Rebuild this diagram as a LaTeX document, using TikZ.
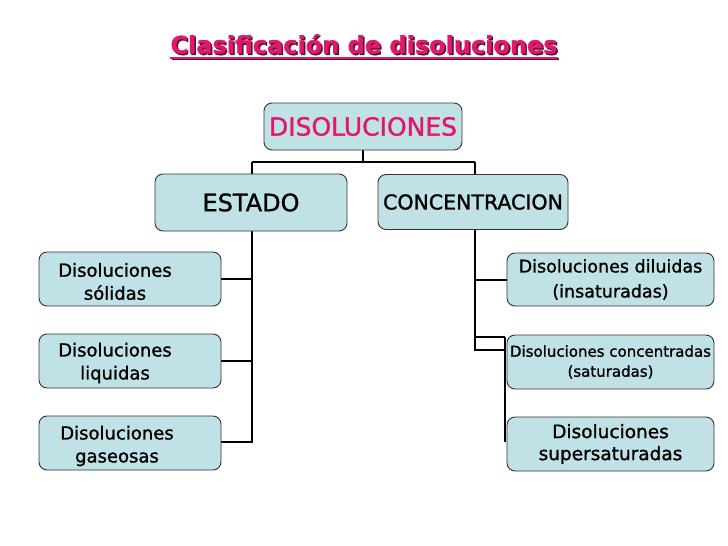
\documentclass[tikz,border=0pt]{standalone}
\usepackage{fontspec}
\setmainfont[FakeBold=1.2]{DejaVu Sans}
\definecolor{boxfill}{RGB}{192,226,230}
\definecolor{pinkt}{RGB}{226,22,110}
\definecolor{shadowc}{RGB}{80,20,40}
\begin{document}
\begin{tikzpicture}[x=1pt,y=-1pt,
  box/.style={draw=black!80, line width=0.9pt, fill=boxfill, rounded corners=8pt, inner sep=0pt, align=center},
  conn/.style={line width=2.8pt, black},
  lbl/.style={align=center, inner sep=0pt, font=\fontsize{18}{23}\selectfont}]
\useasboundingbox (0,0) rectangle (728,546);
\fill[white] (0,0) rectangle (728,546);

% title
\node[inner sep=0pt, text=shadowc, font=\fontsize{24}{28}\bfseries] (titleshadow) at (365.5,45.5) {Clasificación de disoluciones};
\node[inner sep=0pt, text=pinkt, font=\fontsize{24}{28}\bfseries] (title) at (364,44) {Clasificación de disoluciones};
\draw[shadowc, line width=2pt] ([yshift=-4pt]titleshadow.south west) -- ([yshift=-4pt]titleshadow.south east);
\draw[pinkt, line width=2pt] ([yshift=-4pt]title.south west) -- ([yshift=-4pt]title.south east);

% junction coordinates
\coordinate (jl) at (252,162);
\coordinate (jr) at (475,162);
\coordinate (rl) at (475,350);
\coordinate (rt) at (475,337);
\coordinate (ra) at (505,337);
\coordinate (rb) at (505,350);
\coordinate (rc) at (505,442);

% connectors (drawn before boxes)
\draw[conn] (363,150) -- (363,162);
\draw[conn] (jl) -- (jr);
\draw[conn] (jl) -- (252,176);
\draw[conn] (jr) -- (475,176);
\draw[conn] (252,229) -- (252,443.4);
\draw[conn] (221,279) -- (253.4,279);
\draw[conn] (221,361) -- (253.4,361);
\draw[conn] (221,442) -- (253.4,442);
\draw[conn] (475,229) -- (rl) -- (rb);
\draw[conn] (475,280) -- (509,280);
\draw[conn] (rt) -- (ra);
\draw[line width=2pt] (ra) -- (rc);

% boxes
\node[box, minimum width=198pt, minimum height=47pt, text=pinkt, font=\fontsize{25}{28}\selectfont] (root) at (363,126.5) {DISOLUCIONES};
\node[box, minimum width=192pt, minimum height=57pt, font=\fontsize{24}{28}\selectfont] (estado) at (251,202.5) {ESTADO};
\node[box, minimum width=190pt, minimum height=55pt, font=\fontsize{20.5}{24}\selectfont] (conc) at (473,202) {CONCENTRACION};

\node[box, minimum width=182pt, minimum height=54pt] (sol) at (130,279) {};
\node[box, minimum width=182pt, minimum height=54pt] (liq) at (130,361) {};
\node[box, minimum width=182pt, minimum height=54pt] (gas) at (130,443) {};
\node[lbl] (soltxt) at (115,281.5) {Disoluciones\\sólidas};
\node[lbl] (liqtxt) at (115,363) {Disoluciones\\liquidas};
\node[lbl] (gastxt) at (117,446) {Disoluciones\\gaseosas};

\node[box, minimum width=207pt, minimum height=53pt, font=\fontsize{17.5}{25}\selectfont] (dil) at (610.5,279.5) {Disoluciones diluidas\\(insaturadas)};
\node[box, minimum width=207pt, minimum height=54pt, font=\fontsize{15}{20}\selectfont] (concd) at (610.5,362) {Disoluciones concentradas\\(saturadas)};
\node[box, minimum width=207pt, minimum height=54pt, font=\fontsize{18.5}{22}\selectfont] (sup) at (610.5,444) {Disoluciones\\supersaturadas};
\end{tikzpicture}
\end{document}
